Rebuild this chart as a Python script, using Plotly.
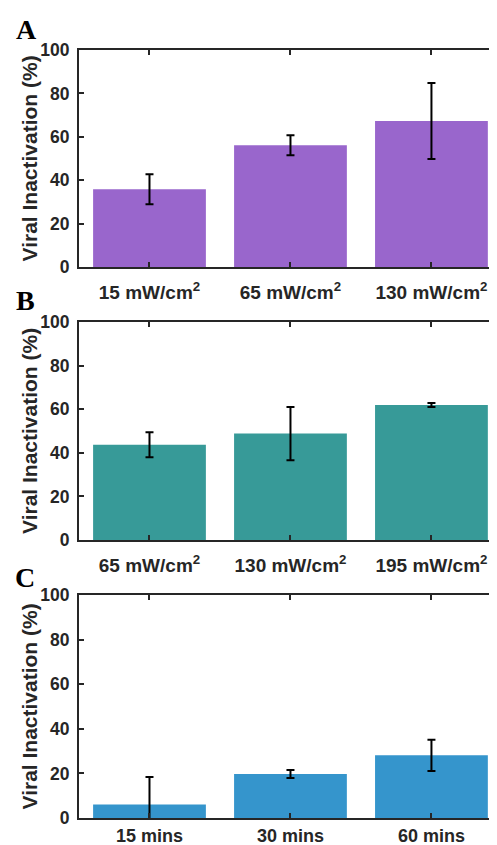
import plotly.graph_objects as go

# ---------------- data ----------------
cats_a = ["15 mW/cm<sup>2</sup>", "65 mW/cm<sup>2</sup>", "130 mW/cm<sup>2</sup>"]
vals_a = [35.8, 56.1, 67.3]
err_a = [6.9, 4.6, 17.5]

cats_b = ["65 mW/cm<sup>2</sup>", "130 mW/cm<sup>2</sup>", "195 mW/cm<sup>2</sup>"]
vals_b = [43.7, 48.8, 61.9]
err_b = [5.7, 12.2, 0.9]

cats_c = ["15 mins", "30 mins", "60 mins"]
vals_c = [6.1, 19.7, 28.1]
err_c = [12.3, 1.8, 7.0]

colors = ["#9966CC", "#379A98", "#3595CC"]
panel_labels = ["A", "B", "C"]
y_ticks = [0, 20, 40, 60, 80, 100]
y_title = "Viral Inactivation (%)"

# page body has an 8px margin, so the figure is drawn 8px smaller and offset
OFF = 8
W, H = 497 - OFF, 845 - OFF
FONT = "Liberation Sans, Arial, sans-serif"
TXT = "#262626"

# panel vertical extents in page pixels (top, bottom)
panels_px = [(50, 267), (322, 540), (595, 818)]
label_px = [(26, 30), (25, 300), (25, 577)]
xlabel_standoff = [7, 7, 0]
xlabel_size = [19, 19, 18]
x_left = 79
title_x = 29


def px_x(v):
    return (v - OFF) / W


def px_y(v):
    return 1 - (v - OFF) / H


fig = go.Figure()
datasets = [(cats_a, vals_a, err_a), (cats_b, vals_b, err_b), (cats_c, vals_c, err_c)]

for i, (cats, vals, errs) in enumerate(datasets):
    n = i + 1
    xa = "x" if n == 1 else f"x{n}"
    ya = "y" if n == 1 else f"y{n}"
    fig.add_trace(go.Bar(
        x=list(range(len(cats))), y=vals,
        marker=dict(color=colors[i], line=dict(width=0)),
        width=0.8,
        error_y=dict(type="data", array=errs, visible=True,
                     color="black", thickness=2, width=4),
        xaxis=xa, yaxis=ya, showlegend=False,
    ))
    top, bot = panels_px[i]
    ydom = [px_y(bot), px_y(top)]
    xkey = "xaxis" if n == 1 else f"xaxis{n}"
    ykey = "yaxis" if n == 1 else f"yaxis{n}"
    fig.update_layout(**{
        xkey: dict(
            domain=[px_x(x_left), 1], anchor=ya,
            range=[-0.5, 2.465],
            tickmode="array", tickvals=list(range(len(cats))), ticktext=cats,
            ticks="inside", ticklen=5, tickwidth=1.5, tickcolor="#262626",
            showline=True, linecolor="#262626", linewidth=2, mirror="ticks",
            showgrid=False, zeroline=False, automargin=False,
            tickfont=dict(family=FONT, size=xlabel_size[i], color=TXT, weight="bold"),
            ticklabelstandoff=xlabel_standoff[i],
            fixedrange=True,
        ),
        ykey: dict(
            domain=ydom, anchor=xa,
            range=[0, 100],
            tickmode="array", tickvals=y_ticks,
            ticks="inside", ticklen=5, tickwidth=1.5, tickcolor="#262626",
            showline=True, linecolor="#262626", linewidth=2,
            showgrid=False, zeroline=False, automargin=False,
            tickfont=dict(family=FONT, size=17.5, color=TXT, weight="bold"),
            ticklabelstandoff=4,
            fixedrange=True,
        ),
    })
    # y-axis title
    fig.add_annotation(
        text=y_title, textangle=-90,
        x=px_x(title_x), y=px_y((top + bot) / 2),
        xref="paper", yref="paper", xanchor="center", yanchor="middle",
        showarrow=False,
        font=dict(family=FONT, size=21, color=TXT, weight="bold"),
    )
    lx, ly = label_px[i]
    fig.add_annotation(
        text=panel_labels[i], x=px_x(lx), y=px_y(ly),
        xref="paper", yref="paper", xanchor="center", yanchor="middle",
        showarrow=False,
        font=dict(family="Liberation Serif, Times New Roman, serif", size=28,
                  color="black", weight="bold"),
    )

fig.update_layout(
    width=W, height=H,
    margin=dict(l=0, r=0, t=0, b=0),
    paper_bgcolor="white", plot_bgcolor="white",
    bargap=0.2,
)

fig.write_html("out.html")
